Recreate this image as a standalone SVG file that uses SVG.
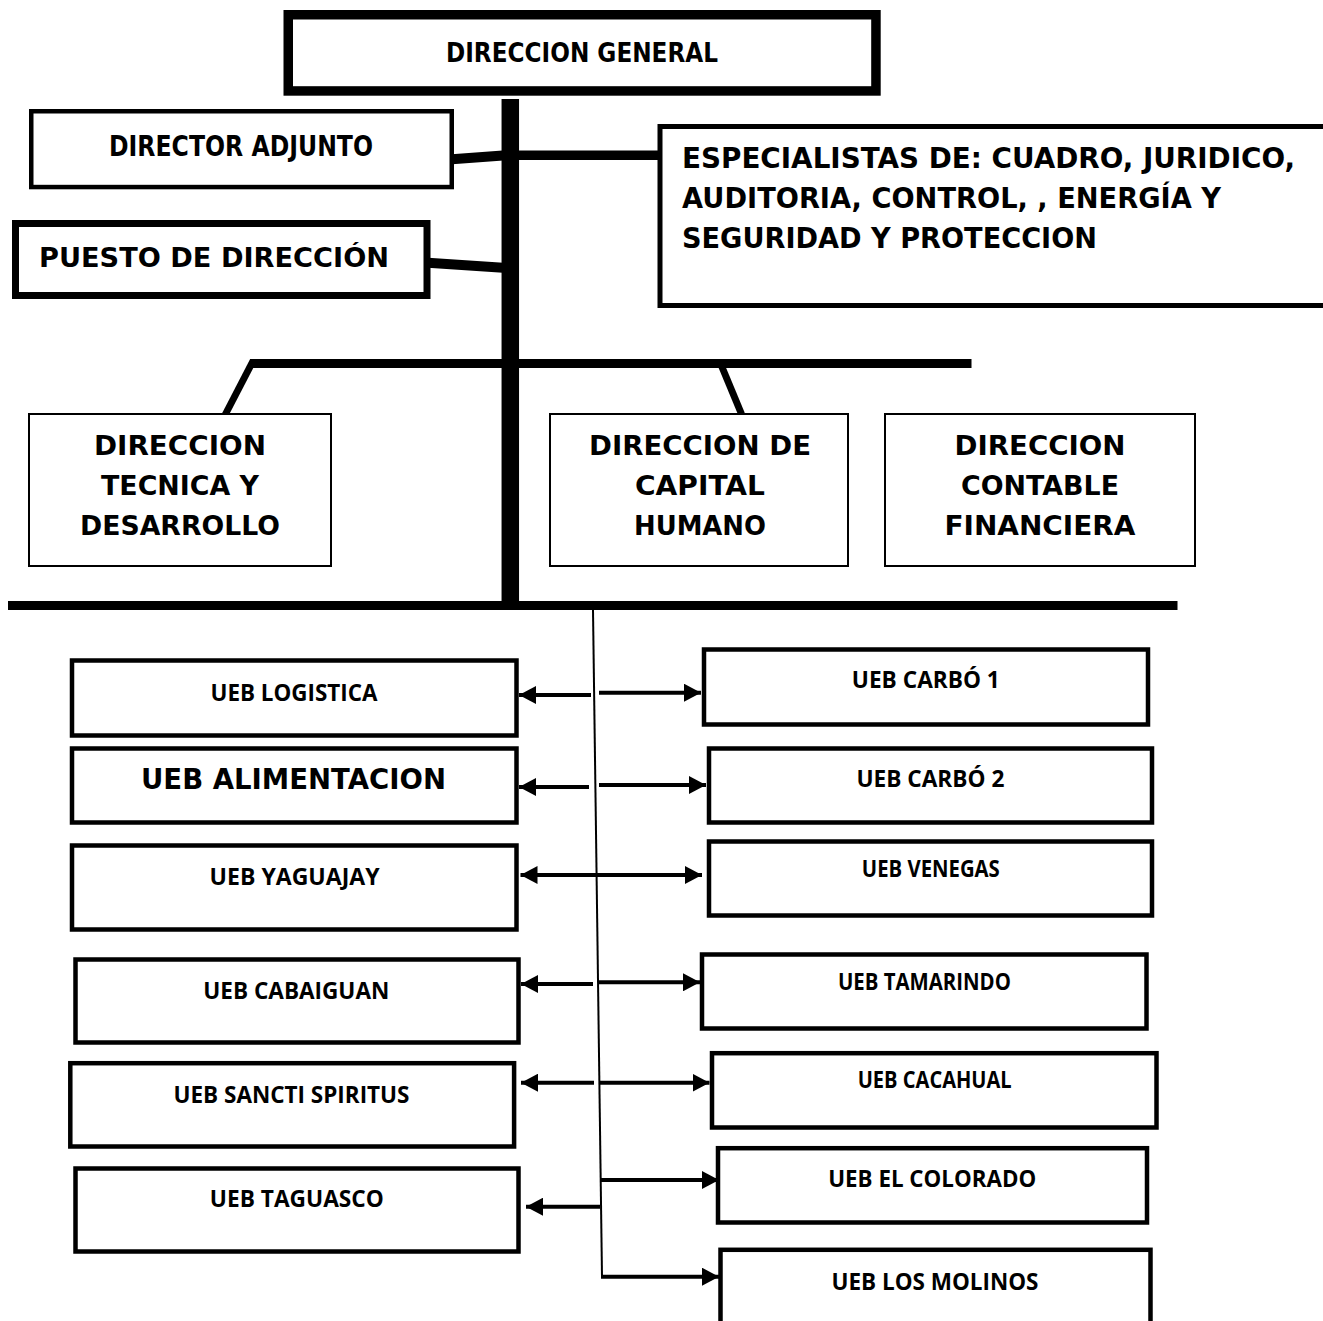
<svg xmlns="http://www.w3.org/2000/svg" width="1323" height="1321" viewBox="0 0 1323 1321">
<defs>
<style>
.box{fill:#fff;stroke:#000}
.t{font-family:"DejaVu Sans","Liberation Sans",sans-serif;font-weight:bold;fill:#000}
.u{font-family:"Open Sans","Liberation Sans",sans-serif;font-weight:bold;fill:#000;font-size:23px}
.thick{stroke:#000;fill:none}
.arr{stroke:#000;stroke-width:4;fill:none}
</style>
<marker id="ah" markerUnits="userSpaceOnUse" markerWidth="18" markerHeight="18" refX="17" refY="9" orient="auto-start-reverse">
<path d="M0,0 L17,9 L0,18 z" fill="#000"/>
</marker>
</defs>
<rect width="1323" height="1321" fill="#fff"/>

<g id="connectors">
<line class="thick" x1="510.3" y1="99" x2="510.3" y2="610" stroke-width="17.5"/>
<line class="thick" x1="8" y1="605.5" x2="1177.5" y2="605.5" stroke-width="9"/>
<line class="thick" x1="250" y1="363.5" x2="971.5" y2="363.5" stroke-width="9"/>
<line class="thick" x1="253" y1="361" x2="224" y2="417" stroke-width="7"/>
<line class="thick" x1="719.5" y1="361" x2="741.5" y2="414" stroke-width="7"/>
<line class="thick" x1="452" y1="159.3" x2="503" y2="155.5" stroke-width="10"/>
<line class="thick" x1="518" y1="155.3" x2="660" y2="155.3" stroke-width="9.5"/>
<line class="thick" x1="428" y1="262.7" x2="503" y2="267.7" stroke-width="10"/>
<line x1="593" y1="610" x2="602" y2="1277" stroke="#000" stroke-width="2"/>
<line class="arr" x1="591" y1="695" x2="519" y2="695" marker-end="url(#ah)"/>
<line class="arr" x1="599" y1="692.7" x2="701" y2="692.7" marker-end="url(#ah)"/>
<line class="arr" x1="589" y1="787" x2="519" y2="787" marker-end="url(#ah)"/>
<line class="arr" x1="599" y1="785" x2="706" y2="785" marker-end="url(#ah)"/>
<line class="arr" x1="520.5" y1="875" x2="702" y2="875" marker-start="url(#ah)" marker-end="url(#ah)"/>
<line class="arr" x1="593" y1="984" x2="521" y2="984" marker-end="url(#ah)"/>
<line class="arr" x1="598" y1="982.3" x2="700" y2="982.3" marker-end="url(#ah)"/>
<line class="arr" x1="594" y1="1082.7" x2="521" y2="1082.7" marker-end="url(#ah)"/>
<line class="arr" x1="599" y1="1082.7" x2="709.5" y2="1082.7" marker-end="url(#ah)"/>
<line class="arr" x1="600" y1="1206.7" x2="526" y2="1206.7" marker-end="url(#ah)"/>
<line class="arr" x1="600" y1="1180" x2="719" y2="1180" marker-end="url(#ah)"/>
<line class="arr" x1="601" y1="1276.7" x2="719" y2="1276.7" marker-end="url(#ah)"/>
</g>

<g id="direccion-general">
<rect class="box" x="288.25" y="14.75" width="587.7" height="76.2" stroke-width="9.5"/>
<text class="t" x="582" y="61.7" font-size="27" text-anchor="middle" textLength="272" lengthAdjust="spacingAndGlyphs">DIRECCION GENERAL</text>
</g>

<g id="director-adjunto">
<rect class="box" x="31.25" y="111.25" width="420.5" height="75.8" stroke-width="4.5"/>
<text class="t" x="241" y="156" font-size="28" text-anchor="middle" textLength="264" lengthAdjust="spacingAndGlyphs">DIRECTOR ADJUNTO</text>
</g>

<g id="puesto-direccion">
<rect class="box" x="15.5" y="223.5" width="411.5" height="72" stroke-width="7"/>
<text class="t" x="214" y="267" font-size="27" text-anchor="middle" textLength="350" lengthAdjust="spacingAndGlyphs">PUESTO DE DIRECCIÓN</text>
</g>

<g id="especialistas">
<rect class="box" x="660" y="126.5" width="700" height="179" stroke-width="5"/>
<text class="t" x="682" y="168" font-size="28" textLength="613" lengthAdjust="spacingAndGlyphs">ESPECIALISTAS DE: CUADRO, JURIDICO,</text>
<text class="t" x="682" y="208" font-size="28" textLength="539" lengthAdjust="spacingAndGlyphs">AUDITORIA, CONTROL, , ENERGÍA Y</text>
<text class="t" x="682" y="248" font-size="28" textLength="415" lengthAdjust="spacingAndGlyphs">SEGURIDAD Y PROTECCION</text>
</g>

<g id="direccion-tecnica">
<rect class="box" x="29" y="414" width="302" height="152" stroke-width="2"/>
<text class="t" x="180" y="455" font-size="27" text-anchor="middle" textLength="172" lengthAdjust="spacingAndGlyphs">DIRECCION</text>
<text class="t" x="180" y="495" font-size="27" text-anchor="middle" textLength="158" lengthAdjust="spacingAndGlyphs">TECNICA Y</text>
<text class="t" x="180" y="535" font-size="27" text-anchor="middle" textLength="200" lengthAdjust="spacingAndGlyphs">DESARROLLO</text>
</g>

<g id="direccion-capital-humano">
<rect class="box" x="550" y="414" width="298" height="152" stroke-width="2"/>
<text class="t" x="700" y="455" font-size="27" text-anchor="middle" textLength="222" lengthAdjust="spacingAndGlyphs">DIRECCION DE</text>
<text class="t" x="700" y="495" font-size="27" text-anchor="middle" textLength="130" lengthAdjust="spacingAndGlyphs">CAPITAL</text>
<text class="t" x="700" y="535" font-size="27" text-anchor="middle" textLength="132" lengthAdjust="spacingAndGlyphs">HUMANO</text>
</g>

<g id="direccion-contable">
<rect class="box" x="885" y="414" width="310" height="152" stroke-width="2"/>
<text class="t" x="1040" y="455" font-size="27" text-anchor="middle" textLength="171" lengthAdjust="spacingAndGlyphs">DIRECCION</text>
<text class="t" x="1040" y="495" font-size="27" text-anchor="middle" textLength="158" lengthAdjust="spacingAndGlyphs">CONTABLE</text>
<text class="t" x="1040" y="535" font-size="27" text-anchor="middle" textLength="191" lengthAdjust="spacingAndGlyphs">FINANCIERA</text>
</g>

<g id="ueb-logistica">
<rect class="box" x="72" y="660.5" width="444.5" height="75" stroke-width="4.5"/>
<text class="u" x="294" y="701" text-anchor="middle" textLength="167" lengthAdjust="spacingAndGlyphs">UEB LOGISTICA</text>
</g>
<g id="ueb-alimentacion">
<rect class="box" x="72" y="748.5" width="444.5" height="74" stroke-width="4.5"/>
<text class="t" x="293.5" y="789" font-size="28" text-anchor="middle" textLength="305" lengthAdjust="spacingAndGlyphs">UEB ALIMENTACION</text>
</g>
<g id="ueb-yaguajay">
<rect class="box" x="72" y="845.5" width="444.5" height="84" stroke-width="4.5"/>
<text class="u" x="294.6" y="885" text-anchor="middle" textLength="170" lengthAdjust="spacingAndGlyphs">UEB YAGUAJAY</text>
</g>
<g id="ueb-cabaiguan">
<rect class="box" x="75.5" y="959.5" width="443" height="83" stroke-width="4.5"/>
<text class="u" x="296.3" y="999" text-anchor="middle" textLength="186" lengthAdjust="spacingAndGlyphs">UEB CABAIGUAN</text>
</g>
<g id="ueb-sancti-spiritus">
<rect class="box" x="70.3" y="1063.2" width="443.8" height="83.3" stroke-width="4.5"/>
<text class="u" x="291.5" y="1102.7" text-anchor="middle" textLength="236" lengthAdjust="spacingAndGlyphs">UEB SANCTI SPIRITUS</text>
</g>
<g id="ueb-taguasco">
<rect class="box" x="75.5" y="1168.5" width="443" height="83" stroke-width="4.5"/>
<text class="u" x="296.8" y="1206.7" text-anchor="middle" textLength="174" lengthAdjust="spacingAndGlyphs">UEB TAGUASCO</text>
</g>

<g id="ueb-carbo-1">
<rect class="box" x="704" y="649.5" width="444" height="75" stroke-width="4.5"/>
<text class="u" x="925.8" y="688" text-anchor="middle" textLength="148" lengthAdjust="spacingAndGlyphs">UEB CARBÓ 1</text>
</g>
<g id="ueb-carbo-2">
<rect class="box" x="709" y="748.5" width="443" height="74" stroke-width="4.5"/>
<text class="u" x="930.4" y="786.7" text-anchor="middle" textLength="148" lengthAdjust="spacingAndGlyphs">UEB CARBÓ 2</text>
</g>
<g id="ueb-venegas">
<rect class="box" x="709" y="841.5" width="443" height="74" stroke-width="4.5"/>
<text class="u" x="930.8" y="876.7" text-anchor="middle" textLength="138" lengthAdjust="spacingAndGlyphs">UEB VENEGAS</text>
</g>
<g id="ueb-tamarindo">
<rect class="box" x="702" y="954.5" width="444.5" height="74" stroke-width="4.5"/>
<text class="u" x="924.4" y="990" text-anchor="middle" textLength="173" lengthAdjust="spacingAndGlyphs">UEB TAMARINDO</text>
</g>
<g id="ueb-cacahual">
<rect class="box" x="712" y="1053.2" width="444.5" height="74.3" stroke-width="4.5"/>
<text class="u" x="934.7" y="1088" text-anchor="middle" textLength="154" lengthAdjust="spacingAndGlyphs">UEB CACAHUAL</text>
</g>
<g id="ueb-el-colorado">
<rect class="box" x="718" y="1148.2" width="429" height="74.3" stroke-width="4.5"/>
<text class="u" x="932.2" y="1186.7" text-anchor="middle" textLength="208" lengthAdjust="spacingAndGlyphs">UEB EL COLORADO</text>
</g>
<g id="ueb-los-molinos">
<rect class="box" x="720.5" y="1249.8" width="430" height="100" stroke-width="4.5"/>
<text class="u" x="935" y="1290" text-anchor="middle" textLength="207" lengthAdjust="spacingAndGlyphs">UEB LOS MOLINOS</text>
</g>
</svg>
